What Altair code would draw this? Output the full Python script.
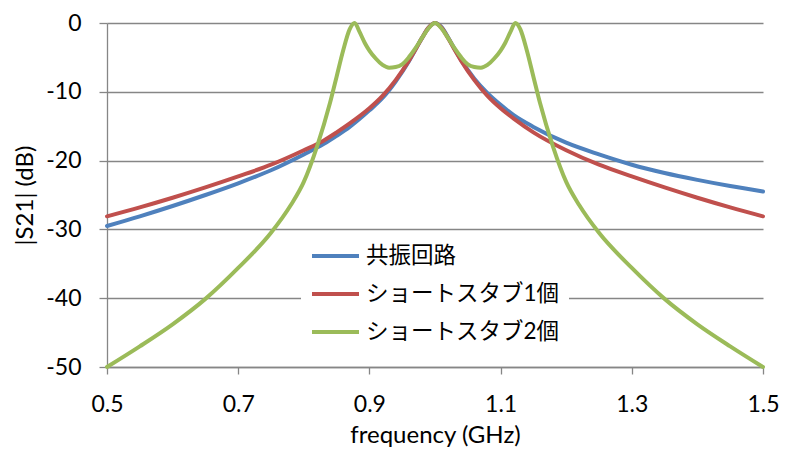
import altair as alt
import pandas as pd

series_names = ["共振回路", "ショートスタブ1個", "ショートスタブ2個"]
series_colors = ["#4F81BD", "#C0504D", "#9BBB59"]

freq_a = [0.50, 0.55, 0.60, 0.65, 0.70, 0.75, 0.80, 0.83, 0.85, 0.87, 0.90, 0.92,
          0.94, 0.96, 0.97, 0.98, 0.99, 1.00, 1.01, 1.02, 1.03, 1.04, 1.06, 1.08,
          1.10, 1.12, 1.15, 1.20, 1.25, 1.30, 1.35, 1.40, 1.45, 1.50]

s21_resonator = [-29.5, -28.1, -26.6, -25.0, -23.3, -21.4, -19.1, -17.6, -16.4, -15.1,
                 -12.7, -10.9, -8.5, -5.6, -3.9, -2.2, -0.7, 0.0, -0.6, -2.1, -3.8,
                 -5.4, -8.1, -10.2, -11.9, -13.4, -15.1, -17.4, -19.1, -20.6, -21.8,
                 -22.8, -23.7, -24.5]

s21_stub1 = [-28.1, -26.8, -25.4, -23.9, -22.3, -20.6, -18.5, -17.1, -15.9, -14.6,
             -12.4, -10.6, -8.3, -5.5, -3.9, -2.2, -0.7, 0.0, -0.7, -2.2, -3.9,
             -5.5, -8.3, -10.6, -12.4, -13.9, -15.9, -18.5, -20.6, -22.3, -23.9,
             -25.4, -26.8, -28.1]

freq_g = [0.50, 0.55, 0.60, 0.65, 0.70, 0.75, 0.78, 0.80, 0.82, 0.84, 0.85, 0.86,
          0.87, 0.8775, 0.885, 0.893, 0.90, 0.91, 0.92, 0.93, 0.94, 0.95, 0.96,
          0.97, 0.98, 0.99, 1.00, 1.01, 1.02, 1.03, 1.04, 1.05, 1.06, 1.07, 1.08,
          1.09, 1.10, 1.107, 1.115, 1.1225, 1.13, 1.14, 1.15, 1.16, 1.18, 1.20,
          1.22, 1.25, 1.30, 1.35, 1.40, 1.45, 1.50]

s21_stub2 = [-50.0, -47.0, -43.8, -40.1, -35.6, -30.5, -26.5, -23.1, -18.0, -11.6,
             -7.8, -4.0, -0.9, 0.0, -1.3, -2.9, -4.0, -5.2, -6.1, -6.5, -6.4, -6.0,
             -5.0, -3.7, -2.2, -0.8, 0.0, -0.8, -2.2, -3.7, -5.0, -6.0, -6.4, -6.5,
             -6.1, -5.2, -4.0, -2.9, -1.3, 0.0, -0.9, -4.0, -7.8, -11.6, -18.0,
             -23.1, -26.5, -30.5, -35.6, -40.1, -43.8, -47.0, -50.0]

x_ticks = [0.5, 0.7, 0.9, 1.1, 1.3, 1.5]
y_ticks = [-50, -40, -30, -20, -10, 0]

frames = []
for name, fr, vals in [(series_names[0], freq_a, s21_resonator),
                       (series_names[1], freq_a, s21_stub1),
                       (series_names[2], freq_g, s21_stub2)]:
    frames.append(pd.DataFrame({"freq": fr, "s21": vals, "series": name}))
df = pd.concat(frames, ignore_index=True)

FONT = "Lato, 'Noto Sans CJK JP', sans-serif"
GRAY = "#868686"

x_enc = alt.X("freq:Q",
              scale=alt.Scale(domain=[0.5, 1.5], nice=False, zero=False),
              axis=alt.Axis(values=x_ticks, format=".1f", title="frequency (GHz)",
                            grid=False, tickSize=7, labelPadding=19,
                            labelFlush=False, labelOverlap=False,
                            titlePadding=7))
y_enc = alt.Y("s21:Q",
              scale=alt.Scale(domain=[-50, 0], nice=False),
              axis=alt.Axis(values=y_ticks, labelExpr="datum.value + ''",
                            title="|S21| (dB)", grid=True, tickSize=8,
                            labelPadding=18, labelFlush=False, titlePadding=8))
color_enc = alt.Color("series:N",
                      scale=alt.Scale(domain=series_names, range=series_colors),
                      legend=alt.Legend(title=None, orient="none", legendX=194,
                                        legendY=212, fillColor="white", padding=9,
                                        symbolType="M-1,0H3.7", symbolSize=400,
                                        symbolStrokeWidth=4, labelOffset=32,
                                        rowPadding=14, labelFontSize=22.5,
                                        labelLimit=0,
                                        labelFont=FONT, labelColor="#000000"))

layers = []
for name in series_names:
    layers.append(
        alt.Chart(df).transform_filter(alt.datum.series == name)
        .mark_line(strokeWidth=4, interpolate="monotone", strokeCap="round",
                   clip=False)
        .encode(x=x_enc, y=y_enc, color=color_enc)
    )

chart = alt.layer(*layers).properties(
    width=656, height=344,
    autosize=alt.AutoSizeParams(type="none"),
    padding={"left": 99, "top": 15, "right": 16, "bottom": 83},
).configure_view(stroke=None).configure_axis(
    labelFont=FONT, titleFont=FONT, labelFontSize=23, titleFontSize=24,
    titleFontWeight="normal", labelColor="#000000", titleColor="#000000",
    domainColor=GRAY, tickColor=GRAY, gridColor=GRAY, gridOpacity=1,
    domainWidth=1.3, tickWidth=1.3, gridWidth=1.3,
)

chart.save("out.html", embed_options={"renderer": "svg", "actions": False})
